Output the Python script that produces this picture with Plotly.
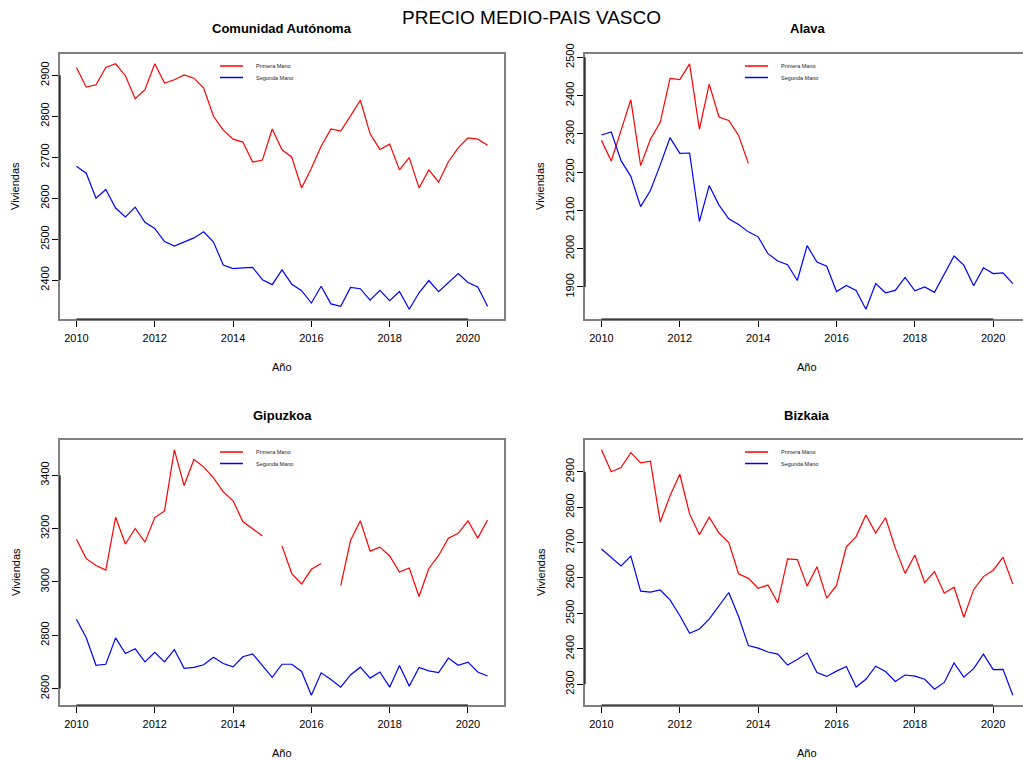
import plotly.graph_objects as go

# trimestres 2010T1 .. 2020T3
anio = [2010 + 0.25 * i for i in range(43)]

ca_primera = [2919, 2871, 2877, 2919, 2928, 2899, 2843, 2865, 2928, 2881, 2889, 2901, 2893, 2869, 2800,
              2766, 2744, 2737, 2688, 2693, 2769, 2718, 2700, 2625, 2673, 2727, 2769, 2764, 2801, 2839,
              2757, 2719, 2732, 2669, 2699, 2625, 2669, 2639, 2689, 2723, 2747, 2744, 2729]
ca_segunda = [2678, 2661, 2600, 2621, 2576, 2554, 2578, 2541, 2526, 2494, 2483, 2494, 2503, 2518, 2493,
              2437, 2428, 2430, 2431, 2401, 2389, 2425, 2390, 2374, 2344, 2385, 2342, 2336, 2382, 2379,
              2351, 2375, 2350, 2372, 2329, 2369, 2399, 2372, 2393, 2416, 2394, 2383, 2336]

alava_primera = [2283, 2229, 2309, 2389, 2217, 2286, 2330, 2445, 2442, 2483, 2312, 2430, 2344, 2335, 2296,
                 2223] + [None] * 27
alava_segunda = [2297, 2305, 2230, 2189, 2110, 2152, 2219, 2290, 2249, 2250, 2071, 2165, 2114, 2078, 2063,
                 2044, 2031, 1987, 1968, 1958, 1917, 2008, 1965, 1954, 1888, 1904, 1891, 1842, 1909, 1885,
                 1891, 1925, 1890, 1900, 1886, 1932, 1981, 1957, 1903, 1950, 1935, 1937, 1909]

gip_primera = [3160, 3087, 3061, 3044, 3242, 3142, 3200, 3149, 3241, 3266, 3495, 3361, 3459, 3431, 3390,
               3337, 3304, 3226, 3199, 3172, None, 3134, 3031, 2992, 3047, 3069, None, 2986, 3155, 3229,
               3115, 3130, 3097, 3037, 3052, 2945, 3050, 3099, 3164, 3182, 3229, 3164, 3232]
gip_segunda = [2860, 2790, 2687, 2691, 2790, 2731, 2749, 2700, 2736, 2700, 2746, 2676, 2679, 2689, 2717,
               2694, 2681, 2719, 2730, 2686, 2642, 2691, 2691, 2664, 2575, 2659, 2634, 2605, 2651, 2680,
               2639, 2662, 2605, 2686, 2609, 2679, 2666, 2660, 2714, 2687, 2699, 2662, 2647]

biz_primera = [2962, 2900, 2912, 2954, 2925, 2930, 2758, 2832, 2893, 2781, 2722, 2772, 2727, 2700, 2612,
               2599, 2571, 2580, 2530, 2654, 2652, 2577, 2632, 2543, 2579, 2688, 2717, 2778, 2727, 2770,
               2685, 2613, 2665, 2587, 2618, 2557, 2574, 2489, 2567, 2604, 2622, 2659, 2583]
biz_segunda = [2682, 2659, 2634, 2662, 2563, 2560, 2566, 2538, 2494, 2444, 2456, 2484, 2521, 2559, 2491,
               2409, 2402, 2391, 2385, 2354, 2370, 2388, 2333, 2322, 2337, 2350, 2292, 2314, 2351, 2336,
               2308, 2326, 2323, 2314, 2286, 2305, 2360, 2320, 2344, 2385, 2341, 2342, 2269]

titulos = ["Comunidad Autónoma", "Alava", "Gipuzkoa", "Bizkaia"]
nombres = ["Primera Mano", "Segunda Mano"]
colores = ["#FF0000", "#0000FF"]
x_ticks = [2010, 2012, 2014, 2016, 2018, 2020]
y_ticks = [
    [2400, 2500, 2600, 2700, 2800, 2900],
    [1900, 2000, 2100, 2200, 2300, 2400, 2500],
    [2600, 2800, 3000, 3200, 3400],
    [2300, 2400, 2500, 2600, 2700, 2800, 2900],
]
series = [
    (ca_primera, ca_segunda),
    (alava_primera, alava_segunda),
    (gip_primera, gip_segunda),
    (biz_primera, biz_segunda),
]

W, H = 1023, 760
FONT = "Liberation Sans, Arial, sans-serif"

# cajas de cada panel en pixeles (izq, der, arriba, abajo)
cajas = [(60, 504, 54, 319), (585, 1023, 54, 319), (60, 504, 440, 705), (585, 1023, 440, 705)]
centro_x = [282, 807, 282, 807]


def px(x):
    return x / W


def py(y):
    return 1 - y / H


fig = go.Figure()
layout = dict(
    width=W, height=H,
    margin=dict(l=0, r=0, t=0, b=0, autoexpand=False),
    paper_bgcolor="white", plot_bgcolor="white",
    font=dict(family=FONT, color="black"),
    showlegend=False,
)
annotations = []
shapes = []

for i, (prim, seg) in enumerate(series):
    n = "" if i == 0 else str(i + 1)
    for vals, nombre, color in zip((prim, seg), nombres, colores):
        fig.add_trace(go.Scatter(x=anio, y=vals, mode="lines", name=nombre,
                                 line=dict(color=color, width=1.2), connectgaps=False,
                                 xaxis="x" + n, yaxis="y" + n))

    l, r, t, b = cajas[i]
    vals = [v for v in prim + seg if v is not None]
    lo, hi = min(vals), max(vals)
    pad = 0.04 * (hi - lo)
    xr_hi = 2020.92 if r < W else 2020.76

    layout["xaxis" + n] = dict(
        domain=[px(l), px(r)], anchor="y" + n, range=[2009.58, xr_hi], automargin=False,
        tickvals=x_ticks, ticks="outside", ticklen=6, tickcolor="black",
        showline=True, linecolor="#808080", linewidth=1.5, mirror=True,
        showgrid=False, zeroline=False, tickfont=dict(size=11), ticklabelstandoff=2,
    )
    layout["yaxis" + n] = dict(
        domain=[py(b), py(t)], anchor="x" + n, range=[lo - pad, hi + pad], automargin=False,
        tickvals=y_ticks[i], ticks="outside", ticklen=6, tickcolor="black", tickangle=-90,
        showline=True, linecolor="#808080", linewidth=1.5, mirror=True,
        showgrid=False, zeroline=False, tickfont=dict(size=11), ticklabelstandoff=-1,
    )
    # eje negro al estilo R, solo entre primera y ultima marca
    shapes.append(dict(type="line", xref="x" + n, yref="y" + n + " domain",
                       x0=x_ticks[0], x1=x_ticks[-1], y0=0, y1=0,
                       line=dict(color="black", width=1.2)))
    shapes.append(dict(type="line", xref="x" + n + " domain", yref="y" + n,
                       x0=0, x1=0, y0=y_ticks[i][0], y1=y_ticks[i][-1],
                       line=dict(color="black", width=1.2)))

    # titulos del panel y de los ejes
    annotations.append(dict(text="<b>" + titulos[i] + "</b>", x=px(centro_x[i]), y=py(t - 25),
                            xref="paper", yref="paper", showarrow=False, font=dict(size=13),
                            xanchor="center", yanchor="middle"))
    annotations.append(dict(text="Año", x=px(centro_x[i]), y=py(b + 48), xref="paper", yref="paper",
                            showarrow=False, font=dict(size=11), xanchor="center", yanchor="middle"))
    annotations.append(dict(text="Viviendas", x=px(l - 44.5), y=py((t + b) / 2), xref="paper",
                            yref="paper", showarrow=False, font=dict(size=11), textangle=-90,
                            xanchor="center", yanchor="middle"))

    # leyenda
    for k, (nombre, color) in enumerate(zip(nombres, colores)):
        yy = t + 12 + 11.5 * k
        shapes.append(dict(type="line", xref="paper", yref="paper", x0=px(l + 160), x1=px(l + 183),
                           y0=py(yy), y1=py(yy), line=dict(color=color, width=1.5)))
        annotations.append(dict(text=nombre, x=px(l + 194), y=py(yy), xref="paper", yref="paper",
                                showarrow=False, font=dict(size=5.5, color="#222222"),
                                xanchor="left", yanchor="middle"))

annotations.append(dict(text="PRECIO MEDIO-PAIS VASCO", x=px(531), y=py(18), xref="paper",
                        yref="paper", showarrow=False, font=dict(size=19),
                        xanchor="center", yanchor="middle"))
layout["annotations"] = annotations
layout["shapes"] = shapes
fig.update_layout(**layout)

fig.write_html(
    "out.html",
    config={"displayModeBar": False},
    post_script=(
        "document.body.style.margin='0';"
        "var d=document.getElementById('{plot_id}');"
        "d.style.position='absolute';d.style.top='0';d.style.left='0';"
    ),
)
